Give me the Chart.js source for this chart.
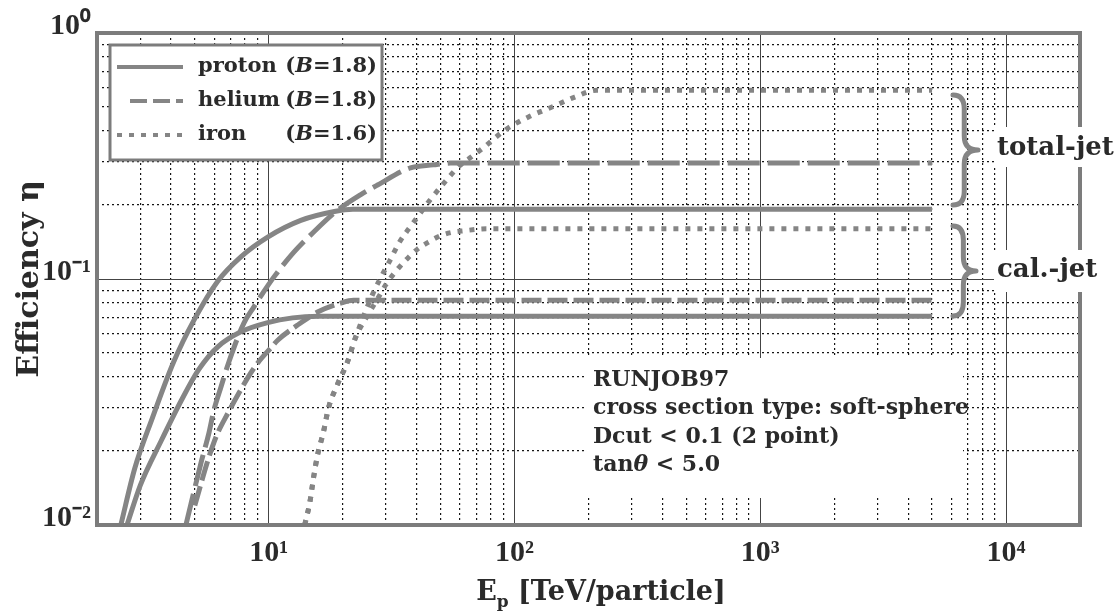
<!DOCTYPE html>
<html>
<head>
<meta charset="utf-8">
<script src="https://cdn.jsdelivr.net/npm/chart.js@4/dist/chart.umd.min.js"></script>
<style>
html,body{margin:0;padding:0;background:#fff;}
#wrap{width:1115px;height:616px;}
</style>
</head>
<body>
<div id="wrap"><canvas id="c" width="1115" height="616"></canvas></div>
<script>
// ---------------- data ----------------
const xTickValues = [10, 100, 1000, 10000];
const xTickLabels = ['10¹', '10²', '10³', '10⁴'];
const yTickValues = [0.01, 0.1, 1];
const yTickLabels = ['10⁻²', '10⁻¹', '10⁰'];

const protonTotalE   = [2.5, 2.85, 3.35, 4.1, 5.0, 6.2, 7.7, 9.9, 13.5, 18.5, 22, 5000];
const protonTotalEff = [0.010, 0.017, 0.027, 0.046, 0.069, 0.098, 0.123, 0.148, 0.173, 0.188, 0.192, 0.192];

const protonCalE   = [2.65, 3.0, 3.65, 4.4, 5.2, 6.2, 7.7, 9.9, 12.5, 16, 5000];
const protonCalEff = [0.010, 0.0145, 0.022, 0.032, 0.043, 0.053, 0.061, 0.0665, 0.0695, 0.0705, 0.0705];

const heliumTotalE   = [4.6, 5.3, 5.71, 5.98, 6.39, 6.88, 7.92, 8.69, 9.46, 10.5, 12.6, 15.2, 19, 23.6, 27.7, 37.7, 46.7, 55, 5000];
const heliumTotalEff = [0.010, 0.0179, 0.0237, 0.0293, 0.0364, 0.046, 0.0662, 0.0769, 0.0877, 0.102, 0.128, 0.155, 0.19, 0.22, 0.241, 0.283, 0.291, 0.296, 0.296];

const heliumCalE   = [5.0, 5.66, 6.1, 6.82, 7.56, 8.45, 9.02, 10.2, 10.9, 13.1, 15.8, 19.6, 22.1, 5000];
const heliumCalEff = [0.012, 0.0184, 0.0228, 0.0285, 0.0344, 0.0415, 0.0456, 0.0525, 0.0565, 0.065, 0.0734, 0.0798, 0.082, 0.082];

const ironTotalE   = [14.0, 14.7, 15.2, 15.8, 16.7, 17.5, 19.0, 20.9, 22.5, 24.5, 26.5, 28.5, 31, 34, 38.7, 45.4, 53.7, 59.6, 66.6, 74.5, 91.5, 114, 142, 176, 216, 5000];
const ironTotalEff = [0.010, 0.0124, 0.0155, 0.0193, 0.0239, 0.0299, 0.0371, 0.046, 0.0575, 0.072, 0.087, 0.101, 0.118, 0.141, 0.169, 0.21, 0.257, 0.288, 0.313, 0.341, 0.403, 0.456, 0.50, 0.549, 0.585, 0.585];

const ironCalE   = [14.0, 14.7, 15.2, 15.8, 16.7, 17.5, 19.0, 20.9, 22.5, 25, 27.5, 30, 33, 36.6, 40.2, 44.5, 50, 56, 62, 77, 5000];
const ironCalEff = [0.010, 0.0124, 0.0155, 0.0193, 0.0239, 0.0299, 0.0371, 0.046, 0.0575, 0.07, 0.082, 0.095, 0.108, 0.121, 0.132, 0.141, 0.15, 0.155, 0.157, 0.16, 0.16];

const seriesNames = ['proton', 'helium', 'iron'];
const seriesB     = ['1.8', '1.8', '1.6'];
const noteLines   = ['RUNJOB97', 'cross section type: soft-sphere', 'Dcut < 0.1 (2 point)', 'tanθ < 5.0'];
const braceLabels = ['total-jet', 'cal.-jet'];
const yTitle = 'Efficiency η';
const xTitleMain = 'E', xTitleSub = 'p', xTitleRest = ' [TeV/particle]';

// ---------------- styling ----------------
const LINE = '#858585';
const TXT = '#2a2a2a';
const SERIF_T = "'Liberation Serif', 'Times New Roman', serif";
const SERIF_D = "'DejaVu Serif', serif";
const DASH = { proton: [], heliumTotal: [32, 8], heliumCal: [20, 6], iron: [5, 7] };

function isDecade(v) { const l = Math.log10(v); return Math.abs(l - Math.round(l)) < 1e-6; }
function lookup(v, vals, labels) {
  for (let i = 0; i < vals.length; i++) if (Math.abs(Math.log10(v / vals[i])) < 1e-6) return labels[i];
  return '';
}
function decadeGrid(lo, hi) {
  const out = [];
  for (let e = lo; e <= hi; e++) for (let m = 1; m <= 9; m++) out.push(+(m * Math.pow(10, e)).toPrecision(6));
  return out;
}
const xGrid = decadeGrid(0, 4).concat([20000]).filter(v => v >= 2 && v <= 20000);
const yGrid = decadeGrid(-2, 0).filter(v => v >= 0.01 && v <= 1);

function pairs(xs, ys) { return xs.map((x, i) => ({ x: x, y: ys[i] })); }

const base = { borderColor: LINE, borderWidth: 5, fill: false, pointRadius: 0,
               cubicInterpolationMode: 'monotone', borderCapStyle: 'butt' };
const datasets = [
  { label: 'proton total-jet', data: pairs(protonTotalE, protonTotalEff), borderDash: DASH.proton },
  { label: 'proton cal.-jet',  data: pairs(protonCalE, protonCalEff),     borderDash: DASH.proton },
  { label: 'helium total-jet', data: pairs(heliumTotalE, heliumTotalEff), borderDash: DASH.heliumTotal },
  { label: 'helium cal.-jet',  data: pairs(heliumCalE, heliumCalEff),     borderDash: DASH.heliumCal },
  { label: 'iron total-jet',   data: pairs(ironTotalE, ironTotalEff),     borderDash: DASH.iron },
  { label: 'iron cal.-jet',    data: pairs(ironCalE, ironCalEff),         borderDash: DASH.iron }
].map(d => Object.assign({}, base, d));

// ---------------- rich-text helpers ----------------
function runs(text, ital) {
  const out = [];
  for (const ch of text) {
    const it = ital.includes(ch);
    if (out.length && out[out.length - 1].it === it) out[out.length - 1].t += ch;
    else out.push({ t: ch, it: it });
  }
  return out;
}
function fontFor(it, size) { return (it ? 'italic ' : '') + 'bold ' + size + 'px ' + SERIF_D; }
function richWidth(ctx, text, size, ital) {
  return runs(text, ital).reduce((w, r) => { ctx.font = fontFor(r.it, size); return w + ctx.measureText(r.t).width; }, 0);
}
function drawRich(ctx, text, x, y, size, ital) {
  for (const r of runs(text, ital)) { ctx.font = fontFor(r.it, size); ctx.fillText(r.t, x, y); x += ctx.measureText(r.t).width; }
  return x;
}
function brace(ctx, x0, tipX, yTop, yBot) {
  const ym = (yTop + yBot) / 2, xm = x0 + (tipX - x0) * 0.45;
  ctx.beginPath();
  ctx.moveTo(x0, yTop);
  ctx.quadraticCurveTo(xm, yTop, xm, yTop + 14);
  ctx.lineTo(xm, ym - 14);
  ctx.quadraticCurveTo(xm, ym, tipX, ym);
  ctx.quadraticCurveTo(xm, ym, xm, ym + 14);
  ctx.lineTo(xm, yBot - 14);
  ctx.quadraticCurveTo(xm, yBot, x0, yBot);
  ctx.stroke();
}

// ---------------- decoration plugin ----------------
const decor = {
  id: 'decor',
  afterDraw(chart) {
    const ctx = chart.ctx, a = chart.chartArea;
    ctx.save();
    ctx.setLineDash([]);
    // frame
    ctx.lineWidth = 4; ctx.strokeStyle = '#7c7c7c';
    ctx.strokeRect(a.left, a.top, a.right - a.left, a.bottom - a.top);

    // legend box
    const bx = a.left + 13, by = a.top + 12, bw = 272, bh = 115;
    ctx.fillStyle = '#fff'; ctx.fillRect(bx, by, bw, bh);
    ctx.lineWidth = 3; ctx.strokeStyle = '#7c7c7c'; ctx.strokeRect(bx, by, bw, bh);
    const legDash = [DASH.proton, [17, 6], DASH.iron];
    const legStart = [bx + 7, bx + 20, bx + 7];
    ctx.textBaseline = 'middle';
    seriesNames.forEach((name, i) => {
      const y = by + 22 + i * 34;
      ctx.beginPath(); ctx.setLineDash(legDash[i]); ctx.lineWidth = 4; ctx.strokeStyle = LINE; ctx.lineCap = 'butt';
      ctx.moveTo(legStart[i], y); ctx.lineTo(bx + 73, y); ctx.stroke();
      ctx.setLineDash([]);
      ctx.fillStyle = TXT;
      drawRich(ctx, name, bx + 88, y, 21, []);
      const par = '(B=' + seriesB[i] + ')';
      const w = richWidth(ctx, par, 21, ['B']);
      drawRich(ctx, par, bx + 267 - w, y, 21, ['B']);
    });

    // note box
    ctx.fillStyle = '#fff'; ctx.fillRect(586, 358, 377, 140);
    ctx.fillStyle = TXT;
    noteLines.forEach((t, i) => drawRich(ctx, t, 593, 380 + i * 28.5, 22, ['θ']));

    // braces
    ctx.lineWidth = 5; ctx.strokeStyle = LINE; ctx.lineCap = 'round'; ctx.lineJoin = 'round';
    brace(ctx, 953, 978, 95, 205);
    brace(ctx, 953, 976, 226, 316);
    ctx.lineCap = 'butt';
    // brace labels
    ctx.fillStyle = '#fff';
    ctx.fillRect(994, 127, 121, 40);
    ctx.fillRect(994, 250, 121, 42);
    ctx.fillStyle = TXT;
    drawRich(ctx, braceLabels[0], 997, 148, 26, []);
    drawRich(ctx, braceLabels[1], 997, 270, 26, []);

    // x-axis title with subscript
    ctx.textBaseline = 'alphabetic';
    ctx.font = fontFor(false, 27);
    const wE = ctx.measureText(xTitleMain).width;
    const wR = ctx.measureText(xTitleRest).width;
    ctx.font = fontFor(false, 17);
    const wS = ctx.measureText(xTitleSub).width;
    let x = 601 - (wE + wS + wR) / 2;
    const yb = 600;
    ctx.font = fontFor(false, 27); ctx.fillText(xTitleMain, x, yb); x += wE;
    ctx.font = fontFor(false, 17); ctx.fillText(xTitleSub, x, yb + 7); x += wS;
    ctx.font = fontFor(false, 27); ctx.fillText(xTitleRest, x, yb);
    ctx.restore();
  }
};

// ---------------- chart ----------------
function gridColor(c) { return c.tick && isDecade(c.tick.value) ? '#444' : '#161616'; }
function gridWidth(c) { return c.tick && isDecade(c.tick.value) ? 1 : 1.2; }
function gridDash(c) { return c.tick && !isDecade(c.tick.value) ? [2, 3] : []; }

new Chart(document.getElementById('c').getContext('2d'), {
  type: 'line',
  data: { datasets: datasets },
  plugins: [decor],
  options: {
    responsive: false,
    animation: false,
    devicePixelRatio: 1,
    layout: { padding: { top: 33, right: 35, left: 0, bottom: 0 } },
    plugins: { legend: { display: false }, tooltip: { enabled: false } },
    scales: {
      x: {
        type: 'logarithmic', min: 2, max: 20000,
        afterFit: s => { s.height = 91; },
        afterBuildTicks: s => { s.ticks = xGrid.map(v => ({ value: v, major: isDecade(v) })); },
        grid: { drawTicks: false, color: gridColor, lineWidth: gridWidth },
        border: { display: false, dash: gridDash },
        ticks: { autoSkip: false, maxRotation: 0, minRotation: 0, padding: 10,
                 font: { family: SERIF_T, size: 30, weight: 'bold' }, color: TXT,
                 callback: v => lookup(v, xTickValues, xTickLabels) },
        title: { display: false }
      },
      y: {
        type: 'logarithmic', min: 0.01, max: 1,
        afterFit: s => { s.width = 97; },
        afterBuildTicks: s => { s.ticks = yGrid.map(v => ({ value: v, major: isDecade(v) })); },
        grid: { drawTicks: false, color: gridColor, lineWidth: gridWidth },
        border: { display: false, dash: gridDash },
        ticks: { autoSkip: false, padding: 6, labelOffset: -7,
                 font: { family: SERIF_T, size: 30, weight: 'bold' }, color: TXT,
                 callback: v => lookup(v, yTickValues, yTickLabels) },
        title: { display: true, text: yTitle, color: TXT,
                 font: { family: SERIF_D, size: 30, weight: 'bold' },
                 padding: { top: 12, bottom: 0 } }
      }
    }
  }
});
</script>
</body>
</html>
